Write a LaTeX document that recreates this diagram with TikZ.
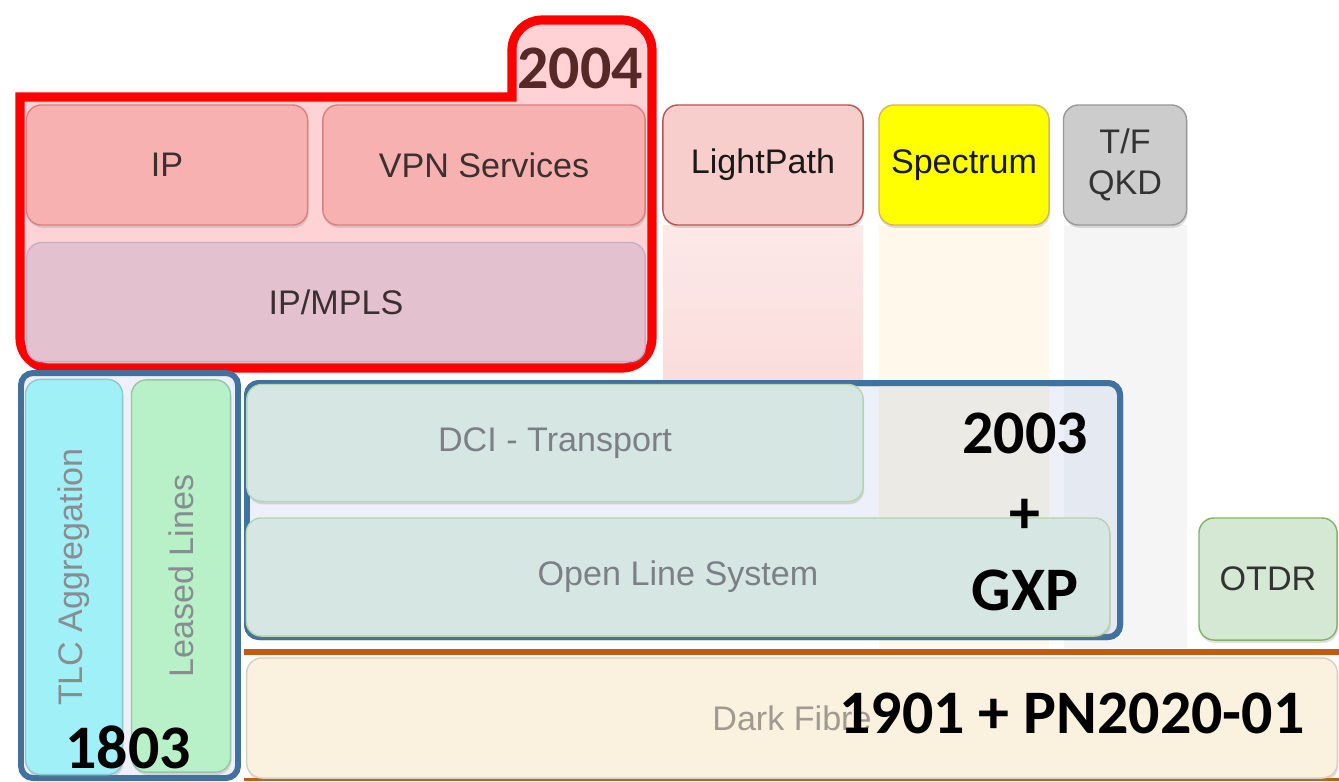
\documentclass[tikz,border=0pt]{standalone}
\usepackage{fontspec}
\setmainfont{Liberation Sans}
\newfontfamily\yearfont{Carlito}
\usepackage{xcolor}
\usetikzlibrary{shadows}

\definecolor{redframe}{HTML}{FF0000}
\definecolor{redback}{HTML}{FFD3D5}
\definecolor{ipfill}{HTML}{F8B1B1}
\definecolor{ipline}{HTML}{D98080}
\definecolor{mplsfill}{HTML}{E4C1CF}
\definecolor{mplsline}{HTML}{C4B0CC}
\definecolor{lpfill}{HTML}{F8CECC}
\definecolor{lpline}{HTML}{B85450}
\definecolor{specfill}{HTML}{FFFF00}
\definecolor{specline}{HTML}{D6B656}
\definecolor{speccol}{HTML}{FFF8EB}
\definecolor{specinbox}{HTML}{EBEAE4}
\definecolor{qkdfill}{HTML}{CCCCCC}
\definecolor{qkdline}{HTML}{999999}
\definecolor{qkdcol}{HTML}{F5F5F5}
\definecolor{qkdinbox}{HTML}{E5E9F2}
\definecolor{groupblue}{HTML}{41719C}
\definecolor{groupfill}{HTML}{EDF0F8}
\definecolor{tlcfill}{HTML}{A0F0F8}
\definecolor{tlcline}{HTML}{8CC8CC}
\definecolor{llfill}{HTML}{B8F0C8}
\definecolor{llline}{HTML}{94C8A4}
\definecolor{dcifill}{HTML}{D6E6E2}
\definecolor{dciline}{HTML}{B5D5B0}
\definecolor{otdrfill}{HTML}{D5E8D4}
\definecolor{otdrline}{HTML}{82B366}
\definecolor{fibreorange}{HTML}{C55A11}
\definecolor{fibrefill}{HTML}{FAF1DF}
\definecolor{fibreline}{HTML}{D8D0C0}
\definecolor{fibretext}{HTML}{A09A90}
\definecolor{yearbrown}{HTML}{562828}
\definecolor{greytext}{HTML}{7C8086}
\definecolor{darktext}{HTML}{3A3030}

\begin{document}
\begin{tikzpicture}[x=0.01cm, y=-0.01cm,
  layer/.style={draw, rounded corners=0.15cm, inner sep=0pt,
    font=\fontsize{9.7}{11.5}\selectfont,
    drop shadow={shadow xshift=0.3pt, shadow yshift=-0.8pt, opacity=0.25}},
  year/.style={font=\yearfont\bfseries\fontsize{17.6}{19}\selectfont,
    anchor=base, inner sep=0pt},
  group/.style={draw=groupblue, line width=1.7pt, rounded corners=0.12cm}]

\useasboundingbox (0,0) rectangle (1339,781);

% red frame
\draw[draw=redframe, fill=redback, line width=2.6pt] (20,230) -- (20,97) -- (512,97)
  [rounded corners=0.3cm] -- (512,20) -- (652,20) -- (652,368) -- (20,368) -- cycle;

% columns under the top boxes
\shade[top color=lpfill!45, bottom color=lpfill!70] (663,225) rectangle (863,385);
\fill[speccol] (879,225) rectangle (1049,648);
\fill[qkdcol] (1064,225) rectangle (1187,648);

% blue groups
\draw[group, fill=groupfill] (21,373) rectangle (238,778);
\draw[group, fill=groupfill] (247,383) rectangle (1120,637);
\fill[specinbox] (879,386) rectangle (1049,634);
\fill[qkdinbox] (1064,386) rectangle (1117,634);
\draw[group] (247,383) rectangle (1120,637);

% dark fibre strip
\fill[fibreorange] (244,649) rectangle (1339,655);
\fill[fibreorange] (244,778) rectangle (1339,781);

\node[layer, fill=ipfill, draw=ipline, text=darktext, minimum width=2.81cm, minimum height=1.2cm] (ip) at (167,165) {IP};
\node[layer, fill=ipfill, draw=ipline, text=darktext, minimum width=3.22cm, minimum height=1.2cm] (vpn) at (484,165) {VPN Services};
\node[layer, fill=mplsfill, draw=mplsline, text=darktext, minimum width=6.18cm, minimum height=1.19cm] (mpls) at (336,302) {IP/MPLS};

\node[layer, fill=lpfill, draw=lpline, text=black!90, minimum width=2.0cm, minimum height=1.2cm] (lightpath) at (763,165) {LightPath};
\node[layer, fill=specfill, draw=specline, text=black!90, minimum width=1.7cm, minimum height=1.2cm] (spectrum) at (964,165) {Spectrum};
\node[layer, fill=qkdfill, draw=qkdline, text=black!80, align=center, minimum width=1.23cm, minimum height=1.2cm] (qkd) at (1125,165) {T/F\\QKD};

\node[layer, fill=tlcfill, draw=tlcline, text=greytext!90, rotate=90, minimum width=3.95cm, minimum height=0.97cm] (tlc) at (74,577) {TLC Aggregation};
\node[layer, fill=llfill, draw=llline, text=greytext!90, rotate=90, minimum width=3.92cm, minimum height=0.99cm] (leased) at (181,576) {Leased Lines};

\node[layer, fill=dcifill, draw=dciline, text=greytext, minimum width=6.16cm, minimum height=1.17cm] (dci) at (555,443) {DCI - Transport};
\node[layer, fill=dcifill, draw=dciline, text=greytext, minimum width=8.63cm, minimum height=1.18cm] (ols) at (678,577) {Open Line System};
\node[layer, fill=otdrfill, draw=otdrline, text=black!80, minimum width=1.38cm, minimum height=1.22cm] (otdr) at (1268,579) {OTDR};
\node[layer, fill=fibrefill, draw=fibreline, text=fibretext, minimum width=10.9cm, minimum height=1.2cm] (fibre) at (792,718) {Dark Fibre};

% project numbers
\node[year, text=yearbrown] (y2004) at (580,88) {2004};
\node[year] (y2003) at (1025,453) {2003};
\node[year] (yplus) at (1025,533) {+};
\node[year] (ygxp) at (1025,610) {GXP};
\node[year] (y1803) at (128,768) {1803};
\node[year] (y1901) at (1072,733) {1901 + PN2020-01};

\end{tikzpicture}
\end{document}
